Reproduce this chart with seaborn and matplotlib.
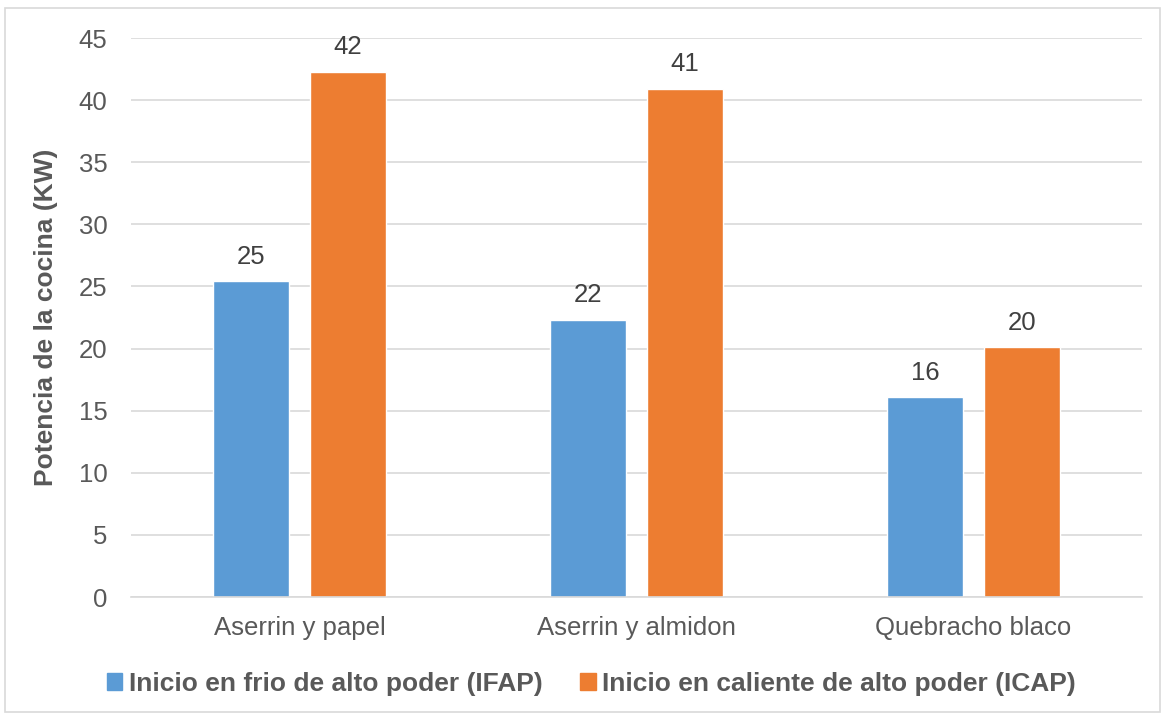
import matplotlib
matplotlib.use("Agg")
import matplotlib.pyplot as plt
from matplotlib.patches import Rectangle
import seaborn as sns
import pandas as pd

categories = ["Aserrin y papel", "Aserrin y almidon", "Quebracho blaco"]
series_names = ["Inicio en frio de alto poder (IFAP)",
                "Inicio en caliente de alto poder (ICAP)"]
ifap = [25.4, 22.3, 16.1]
icap = [42.3, 40.9, 20.1]
y_ticks = [0, 5, 10, 15, 20, 25, 30, 35, 40, 45]
y_label = "Potencia de la cocina (KW)"
colors = ["#5B9BD5", "#ED7D31"]

df = pd.DataFrame({
    "categoria": categories * 2,
    "serie": [series_names[0]] * 3 + [series_names[1]] * 3,
    "valor": ifap + icap,
})

sns.set_theme(style="white")
plt.rcParams["font.family"] = ["Liberation Sans", "DejaVu Sans"]
text_color = "#595959"

fig = plt.figure(figsize=(11.64, 7.16), dpi=100)
ax = fig.add_axes([0.1125, 0.1662, 0.8685, 0.7807])

sns.barplot(data=df, x="categoria", y="valor", hue="serie",
            palette=colors, width=0.576, gap=0.216, ax=ax,
            saturation=1, legend=False, errorbar=None)

for cont in ax.containers:
    ax.bar_label(cont, labels=[f"{v:.0f}" for v in cont.datavalues],
                 padding=9, fontsize=18.5, color="#404040")

ax.set_ylim(0, 45)
ax.set_xlim(-0.5, 2.5)
ax.set_yticks(y_ticks)
ax.yaxis.grid(True, color="#D9D9D9", linewidth=1.2)
ax.set_axisbelow(True)
for s in ["top", "right", "left"]:
    ax.spines[s].set_visible(False)
ax.spines["bottom"].set_color("#D9D9D9")
ax.spines["bottom"].set_linewidth(1.2)
ax.tick_params(axis="both", length=0, labelsize=18.5, labelcolor=text_color)
ax.tick_params(axis="y", pad=17)
ax.tick_params(axis="x", pad=14)
ax.set_xlabel("")
ax.set_ylabel(y_label, fontsize=19, fontweight="bold", color=text_color)
ax.yaxis.set_label_coords(-0.072, 0.5)

handles = [Rectangle((0, 0), 1, 1, color=c) for c in colors]
fig.legend(handles, series_names, loc="center", bbox_to_anchor=(0.508, 0.045),
           ncol=2, frameon=False, handlelength=0.6, handleheight=0.6,
           handletextpad=0.25, columnspacing=1.4,
           prop={"size": 19, "weight": "bold"}, labelcolor=text_color)

fig.patches.append(Rectangle((5 / 1164, 4 / 716), 1155 / 1164, 704 / 716,
                             transform=fig.transFigure, fill=False,
                             edgecolor="#D9D9D9", linewidth=1.2))

fig.savefig("out.png", dpi=100)
